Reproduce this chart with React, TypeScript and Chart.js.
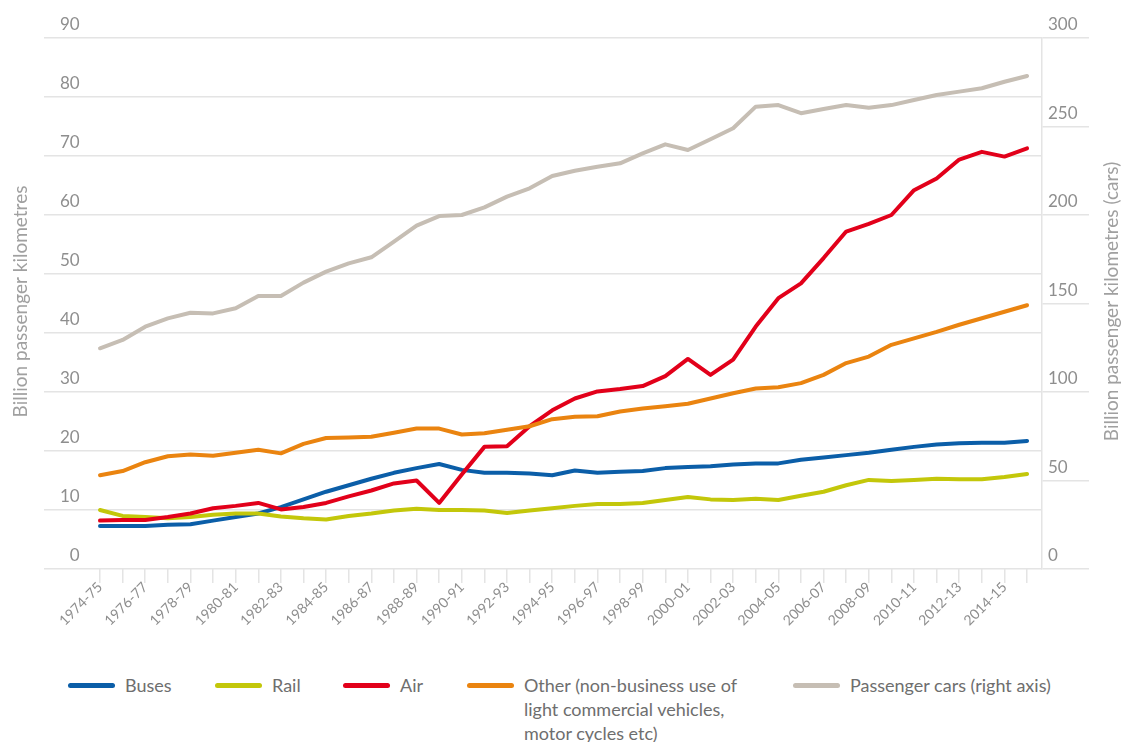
import React, { useEffect, useRef } from 'react';
import { Chart, registerables } from 'chart.js';

Chart.register(...registerables);

// ---------- data ----------
const yearLabels = [
  '1974-75', '1975-76', '1976-77', '1977-78', '1978-79', '1979-80', '1980-81', '1981-82',
  '1982-83', '1983-84', '1984-85', '1985-86', '1986-87', '1987-88', '1988-89', '1989-90',
  '1990-91', '1991-92', '1992-93', '1993-94', '1994-95', '1995-96', '1996-97', '1997-98',
  '1998-99', '1999-00', '2000-01', '2001-02', '2002-03', '2003-04', '2004-05', '2005-06',
  '2006-07', '2007-08', '2008-09', '2009-10', '2010-11', '2011-12', '2012-13', '2013-14',
  '2014-15', '2015-16',
];

const buses = [
  7.3, 7.3, 7.3, 7.5, 7.6, 8.2, 8.8, 9.4, 10.5, 11.8, 13.1, 14.2, 15.3, 16.3, 17.1, 17.8,
  16.8, 16.3, 16.3, 16.2, 15.9, 16.7, 16.3, 16.5, 16.6, 17.1, 17.3, 17.4, 17.7, 17.9, 17.9,
  18.5, 18.9, 19.3, 19.7, 20.2, 20.7, 21.1, 21.3, 21.4, 21.4, 21.7,
];

const rail = [
  10.0, 9.0, 8.8, 8.6, 8.8, 9.2, 9.4, 9.4, 8.9, 8.6, 8.4, 9.0, 9.4, 9.9, 10.2, 10.0,
  10.0, 9.9, 9.5, 9.9, 10.3, 10.7, 11.0, 11.0, 11.2, 11.7, 12.2, 11.8, 11.7, 11.9, 11.7,
  12.4, 13.1, 14.2, 15.1, 14.9, 15.1, 15.3, 15.2, 15.2, 15.6, 16.1,
];

const air = [
  8.2, 8.3, 8.3, 8.8, 9.4, 10.3, 10.7, 11.2, 10.1, 10.5, 11.2, 12.3, 13.3, 14.5, 15.0, 11.2,
  16.0, 20.7, 20.8, 24.2, 26.9, 28.9, 30.1, 30.5, 31.0, 32.7, 35.6, 32.9, 35.5, 41.1, 45.9,
  48.4, 52.7, 57.2, 58.5, 60.0, 64.2, 66.2, 69.4, 70.7, 69.9, 71.3,
];

const other = [
  15.9, 16.6, 18.1, 19.1, 19.4, 19.2, 19.7, 20.2, 19.6, 21.2, 22.2, 22.3, 22.4, 23.1, 23.8,
  23.8, 22.8, 23.0, 23.6, 24.2, 25.4, 25.8, 25.9, 26.7, 27.2, 27.6, 28.0, 28.9, 29.8, 30.6,
  30.8, 31.5, 32.9, 34.9, 36.0, 38.0, 39.1, 40.2, 41.4, 42.5, 43.6, 44.7,
];

const cars = [
  124.7, 129.4, 136.9, 141.6, 144.8, 144.4, 147.3, 154.2, 154.2, 161.8, 168.0, 172.7, 176.1,
  184.9, 194.0, 199.4, 200.0, 204.3, 210.4, 215.1, 222.0, 225.0, 227.3, 229.2, 234.8, 239.9,
  236.7, 242.8, 249.0, 261.2, 262.1, 257.5, 259.9, 262.1, 260.6, 262.1, 265.0, 267.8, 269.7,
  271.6, 275.3, 278.5,
];

const leftAxisTitle = 'Billion passenger kilometres';
const rightAxisTitle = 'Billion passenger kilometres (cars)';

const seriesNames = ['Buses', 'Rail', 'Air', 'Other (non-business use of\nlight commercial vehicles,\nmotor cycles etc)', 'Passenger cars (right axis)'];
const seriesColors = ['#0b5ea8', '#c3c70a', '#e2001a', '#ea8410', '#c6beb4'];

// ---------- layout ----------
const FONT = 'Lato, "Open Sans", sans-serif';
const GRID = '#e4e4e4';
const TICK_TEXT = '#8e8e8e';
const legendLefts = [68, 215, 343, 467, 793];

const toPoints = (arr: number[]) => arr.map((v, i) => ({ x: i, y: v }));

const axisTitlesPlugin = {
  id: 'axisTitles',
  afterDraw(chart: any) {
    const { ctx, chartArea, scales } = chart;
    const cy = (chartArea.top + chartArea.bottom) / 2 - 2;
    ctx.save();
    ctx.font = `19px ${FONT}`;
    ctx.fillStyle = '#a0a0a0';
    ctx.textAlign = 'center';
    ctx.textBaseline = 'middle';
    ctx.save();
    ctx.translate(scales.y.left + 21, cy);
    ctx.rotate(-Math.PI / 2);
    ctx.fillText(leftAxisTitle, 0, 0);
    ctx.restore();
    ctx.save();
    ctx.translate(scales.y1.right - 10, cy);
    ctx.rotate(-Math.PI / 2);
    ctx.fillText(rightAxisTitle, 0, 0);
    ctx.restore();
    ctx.restore();
  },
};

function LineChart() {
  const ref = useRef<HTMLCanvasElement | null>(null);
  useEffect(() => {
    if (!ref.current) return;
    Chart.defaults.font.family = FONT;
    const series = [buses, rail, air, other, cars];
    const chart = new Chart(ref.current, {
      type: 'line',
      data: {
        datasets: series.map((s, i) => ({
          label: seriesNames[i],
          data: toPoints(s),
          borderColor: seriesColors[i],
          backgroundColor: seriesColors[i],
          borderWidth: 4,
          pointRadius: 0,
          tension: 0,
          borderJoinStyle: 'round',
          borderCapStyle: 'round',
          yAxisID: i === 4 ? 'y1' : 'y',
          order: i === 4 ? 10 : 4 - i,
        })),
      },
      options: {
        responsive: true,
        maintainAspectRatio: false,
        animation: false,
        layout: { padding: { top: 38, left: 0, right: 0, bottom: 0 } },
        plugins: { legend: { display: false }, tooltip: { enabled: false } },
        scales: {
          x: {
            type: 'linear',
            bounds: 'data',
            min: -2.477,
            max: 41.66,
            afterBuildTicks: (scale: any) => {
              scale.ticks = yearLabels.map((_, i) => ({ value: i }));
            },
            afterFit: (scale: any) => {
              scale.height = 81;
            },
            ticks: {
              autoSkip: false,
              maxRotation: 45,
              minRotation: 45,
              padding: -4,
              color: TICK_TEXT,
              font: { size: 14 },
              callback: (value: any) => (Number(value) % 2 === 0 ? yearLabels[Number(value)] : ''),
            },
            grid: { drawOnChartArea: false, drawTicks: true, tickLength: 14, color: GRID, lineWidth: 1.5 },
            border: { display: false },
          },
          y: {
            position: 'left',
            min: 0,
            max: 90,
            afterFit: (scale: any) => {
              scale.width = 44;
            },
            ticks: {
              stepSize: 10,
              mirror: true,
              crossAlign: 'far',
              padding: 16,
              labelOffset: -13,
              color: TICK_TEXT,
              font: { size: 17 },
            },
            grid: { color: GRID, lineWidth: 1.5, drawTicks: false },
            border: { display: false },
          },
          y1: {
            position: 'right',
            min: 0,
            max: 300,
            afterFit: (scale: any) => {
              scale.width = 80;
            },
            ticks: {
              stepSize: 50,
              padding: -41,
              labelOffset: -13,
              color: TICK_TEXT,
              font: { size: 17 },
            },
            grid: { drawOnChartArea: false, drawTicks: true, tickLength: 47, color: GRID, lineWidth: 1.5 },
            border: { display: true, color: GRID, width: 1.5 },
          },
        },
      } as any,
      plugins: [axisTitlesPlugin],
    } as any);
    return () => chart.destroy();
  }, []);
  return <canvas ref={ref} />;
}

export default function App() {
  return (
    <div style={{ position: 'absolute', left: 0, top: 0, width: 1122, height: 742, background: '#fff', overflow: 'hidden' }}>
      <div style={{ position: 'absolute', left: 0, top: 0, width: 1122, height: 650 }}>
        <LineChart />
      </div>
      {seriesNames.map((name, i) => (
        <div
          key={name}
          style={{
            position: 'absolute',
            left: legendLefts[i],
            top: 673,
            display: 'flex',
            alignItems: 'flex-start',
            fontFamily: FONT,
            fontSize: 18,
            lineHeight: '24px',
            color: '#6e6e6e',
          }}
        >
          <span
            style={{
              display: 'inline-block',
              width: 47,
              height: 5,
              borderRadius: 3,
              marginTop: 10,
              marginRight: 10,
              background: seriesColors[i],
            }}
          />
          <span style={{ whiteSpace: 'pre' }}>{name}</span>
        </div>
      ))}
    </div>
  );
}
